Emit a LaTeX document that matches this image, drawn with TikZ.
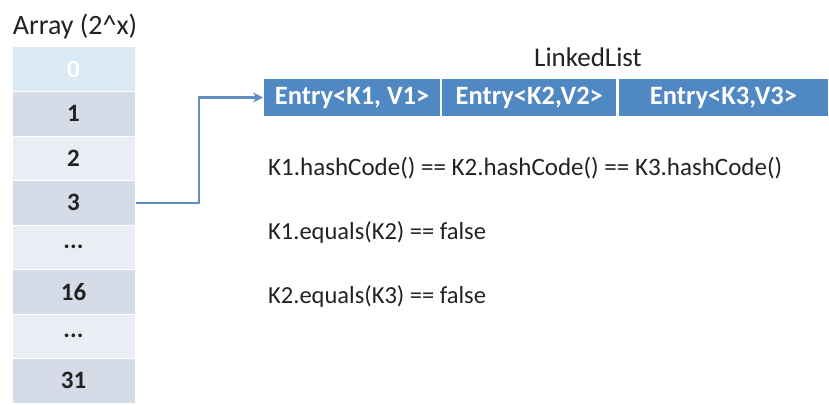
\documentclass[tikz,border=0pt]{standalone}
\usepackage{fontspec}
\setmainfont{Carlito}
\usepackage{tikz}
\usetikzlibrary{positioning, arrows.meta}

\definecolor{cellzero}{HTML}{DCEAF5}
\definecolor{celldark}{HTML}{D6DCE7}
\definecolor{celllight}{HTML}{EAEDF3}
\definecolor{entryblue}{HTML}{5088C4}
\definecolor{linkblue}{HTML}{5F8DBF}
\definecolor{textgray}{HTML}{222222}

\tikzset{
  cell/.style   = {minimum width=123pt, minimum height=44.5pt, inner sep=0pt,
                   draw=white, line width=1pt, font=\fontsize{25}{28}\selectfont\bfseries, text=textgray},
  entry/.style  = {minimum height=39pt, inner sep=0pt, fill=entryblue, draw=white,
                   line width=1.2pt, text=white, font=\fontsize{26.5}{29}\selectfont\bfseries},
  note/.style   = {anchor=west, inner sep=0pt, text=textgray, font=\fontsize{24.5}{28}\selectfont},
  link/.style   = {draw=linkblue, line width=2.2pt, -{Stealth[length=10pt, width=10pt]}}
}

\begin{document}
\begin{tikzpicture}[x=1pt, y=-1pt]
    \useasboundingbox (0,0) rectangle (829,404);

    % draw array title and cells
    \node[text=textgray, font=\fontsize{28}{32}\selectfont] (title) at (75,27) {Array (2\^{}x)};
    \node[cell, fill=cellzero, text=white] (c0)  at (73.5,69.25)  {0};
    \node[cell, fill=celldark]  (c1)  at (73.5,113.75) {1};
    \node[cell, fill=celllight] (c2)  at (73.5,158.25) {2};
    \node[cell, fill=celldark]  (c3)  at (73.5,202.75) {3};
    \node[cell, fill=celllight] (c4)  at (73.5,247.25) {...};
    \node[cell, fill=celldark]  (c16) at (73.5,291.75) {16};
    \node[cell, fill=celllight] (c5)  at (73.5,336.25) {...};
    \node[cell, fill=celldark]  (c31) at (73.5,380.75) {31};

    % draw linked list
    \node[font=\fontsize{27}{30}\selectfont, text=textgray] (listname) at (588,57) {LinkedList};
    \node[entry, minimum width=177pt, anchor=west] (e1) at (263,97.5) {Entry<K1, V1>};
    \node[entry, minimum width=175pt, right=0pt of e1] (e2) {Entry<K2,V2>};
    \node[entry, minimum width=211pt, right=0pt of e2] (e3) {Entry<K3,V3>};

    % draw link from bucket 3
    \coordinate (turn) at (199,150);
    \draw[link] (c3.east) -| (turn) |- (e1.west);

    % draw notes
    \node[note, font=\fontsize{25}{28}\selectfont] (hash) at (268,168)
        {K1.hashCode() == K2.hashCode() == K3.hashCode()};
    \node[note] (eqa) at (268,233) {K1.equals(K2) == false};
    \node[note] (eqb) at (268,297) {K2.equals(K3) == false};

\end{tikzpicture}
\end{document}
